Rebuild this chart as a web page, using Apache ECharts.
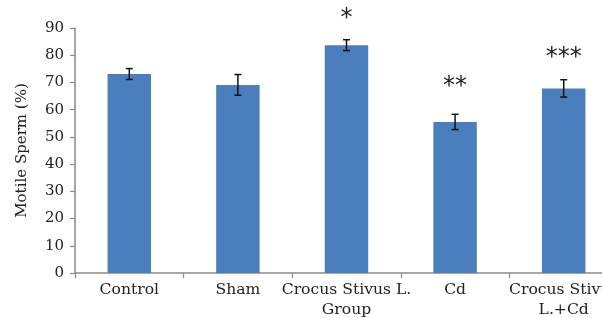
<!DOCTYPE html>
<html><head><meta charset="utf-8">
<script src="https://cdn.jsdelivr.net/npm/echarts@6/dist/echarts.min.js"></script>
<style>html,body{margin:0;padding:0;background:#fff;}#c{width:602px;height:318px;}</style>
</head><body><div id="c"></div>
<script>
const categories = ['Control', 'Sham', 'Crocus Stivus L.\nGroup', 'Cd', 'Crocus Stivus\nL.+Cd'];
const motile = [73.1, 69.1, 83.7, 55.5, 67.8];
const errors = [2.0, 3.8, 2.0, 2.8, 3.2];
const significance = ['', '', '*', '**', '***'];
const starGap = [0, 0, 14, 23, 19];
const yTicks = { min: 0, max: 90, interval: 10 };

const chart = echarts.init(document.getElementById('c'), null, { renderer: 'canvas' });
const serif = 'DejaVu Serif';
chart.setOption({
  animation: false,
  grid: { left: 75, right: -16, top: 28, bottom: 45, containLabel: false, outerBoundsMode: 'none' },
  xAxis: {
    type: 'category', data: categories,
    axisLine: { lineStyle: { color: '#8a8a8a', width: 1.5 } },
    axisTick: { show: true, length: 5, lineStyle: { color: '#8a8a8a', width: 1.2 } },
    axisLabel: { fontFamily: serif, fontSize: 15.6, color: '#222', margin: 7, lineHeight: 20, interval: 0 }
  },
  yAxis: {
    type: 'value', min: yTicks.min, max: yTicks.max, interval: yTicks.interval,
    name: 'Motile Sperm (%)', nameLocation: 'middle', nameGap: 45,
    nameTextStyle: { fontFamily: serif, fontSize: 15, color: '#222' },
    axisLine: { show: true, lineStyle: { color: '#8a8a8a', width: 1.5 } },
    axisTick: { show: true, length: 5, lineStyle: { color: '#8a8a8a', width: 1.2 } },
    splitLine: { show: false },
    axisLabel: { fontFamily: serif, fontSize: 15, color: '#222', margin: 11 }
  },
  series: [
    {
      type: 'bar', barWidth: '40%',
      itemStyle: { color: '#4a7ebd' },
      data: motile.map((v, i) => ({
        value: v,
        label: {
          show: significance[i] !== '', position: 'top', distance: starGap[i],
          formatter: significance[i], fontFamily: 'DejaVu Sans', fontSize: 24, color: '#222'
        }
      }))
    },
    {
      type: 'custom', z: 5,
      data: motile.map((v, i) => [i, v - errors[i], v + errors[i]]),
      renderItem: function (params, api) {
        const x = api.value(0);
        const lo = api.coord([x, api.value(1)]);
        const hi = api.coord([x, api.value(2)]);
        const w = 3.5;
        const st = { stroke: '#111', lineWidth: 1.5 };
        return { type: 'group', children: [
          { type: 'line', shape: { x1: lo[0], y1: lo[1], x2: hi[0], y2: hi[1] }, style: st },
          { type: 'line', shape: { x1: lo[0] - w, y1: lo[1], x2: lo[0] + w, y2: lo[1] }, style: st },
          { type: 'line', shape: { x1: hi[0] - w, y1: hi[1], x2: hi[0] + w, y2: hi[1] }, style: st }
        ]};
      }
    }
  ]
});
</script></body></html>
